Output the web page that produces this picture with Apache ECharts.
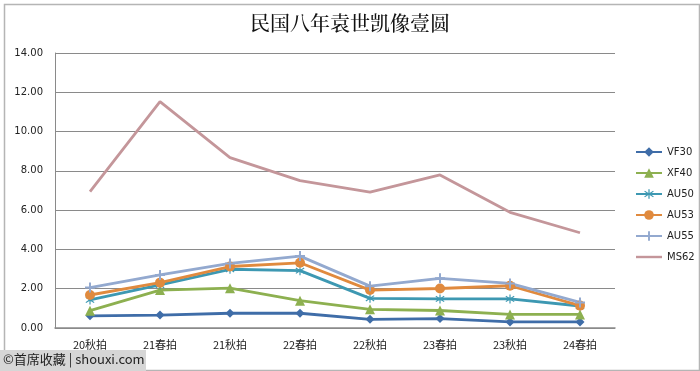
<!DOCTYPE html>
<html><head><meta charset="utf-8">
<script src="https://cdn.jsdelivr.net/npm/echarts@6/dist/echarts.min.js"></script>
<style>html,body{margin:0;padding:0;background:#fff}#c{width:700px;height:371px}</style>
</head><body><div id="c"></div>
<script>
const title = '民国八年袁世凯像壹圆';
const categories = ['20秋拍','21春拍','21秋拍','22春拍','22秋拍','23春拍','23秋拍','24春拍'];
const VF30 = [0.62,0.66,0.75,0.75,0.44,0.48,0.31,0.31];
const XF40 = [0.88,1.93,2.03,1.39,0.95,0.89,0.69,0.69];
const AU50 = [1.43,2.19,2.99,2.92,1.51,1.48,1.48,1.12];
const AU53 = [1.68,2.31,3.13,3.32,1.93,2.01,2.15,1.14];
const AU55 = [2.06,2.70,3.29,3.66,2.13,2.53,2.27,1.30];
const MS62 = [6.94,11.52,8.67,7.50,6.92,7.79,5.89,4.85];
const yTicks = [0,2,4,6,8,10,12,14];

const plus = 'path://M4,0H6V4H10V6H6V10H4V6H0V4H4Z';
const star = 'path://M4.4,0H5.6V3.9L8.9,1.5L9.6,2.5L6.2,4.9L9.6,7.5L8.9,8.5L5.6,6.1V10H4.4V6.1L1.1,8.5L0.4,7.5L3.8,4.9L0.4,2.5L1.1,1.5L4.4,3.9Z';
function s(name, data, color, symbol, size){
  return {name, type:'line', data, symbol, symbolSize:size, showSymbol: symbol!=='none',
    lineStyle:{color, width:2.8}, itemStyle:{color}, z: 2};
}
const chart = echarts.init(document.getElementById('c'));
chart.setOption({
  animation:false,
  backgroundColor:'#fff',
  title:{text:title,left:'center',top:8,textStyle:{fontFamily:'Noto Serif CJK SC, Noto Sans CJK SC',fontSize:20,fontWeight:500,color:'#111'}},
  grid:{left:55,right:85,top:53,bottom:43},
  legend:{orient:'vertical',left:630,top:142,itemGap:11,itemWidth:26,itemHeight:12,
    textStyle:{fontFamily:'DejaVu Sans',fontSize:10,color:'#222'},
    data:['VF30','XF40','AU50','AU53','AU55',{name:'MS62',icon:'path://M0,5H26V7.4H0Z'}]},
  xAxis:{type:'category',data:categories,boundaryGap:true,
    axisLine:{lineStyle:{color:'#8a8a8a',width:1.5}},axisTick:{show:false},
    axisLabel:{fontFamily:'Noto Sans CJK SC',fontSize:11,color:'#222',margin:11}},
  yAxis:{type:'value',min:yTicks[0],max:yTicks[yTicks.length-1],interval:2,
    axisLine:{show:true,lineStyle:{color:'#8a8a8a'}},axisTick:{show:false},
    splitLine:{lineStyle:{color:'#8a8a8a',width:1}},
    axisLabel:{fontFamily:'DejaVu Sans',fontSize:10,color:'#222',margin:12,formatter:v=>v.toFixed(2)}},
  series:[
    s('VF30',VF30,'#3F6DA8','diamond',9),
    s('XF40',XF40,'#8DB050','triangle',10),
    s('AU50',AU50,'#3D98B2',star,9),
    s('AU53',AU53,'#E08A3E','circle',10),
    s('AU55',AU55,'#93A9CF',plus,10),
    s('MS62',MS62,'#C4969A','none',4)
  ],
  graphic:[
    {type:'rect',left:2,top:2,shape:{width:695,height:366},style:{fill:'none',stroke:'#b5b5b5',lineWidth:1.5},z:-1},
    {type:'rect',left:0,top:350,shape:{width:146,height:21},style:{fill:'#d6d6d6'},z:10},
    {type:'text',left:3,top:353,style:{text:'©首席收藏 | shouxi.com',fontFamily:'Noto Sans CJK SC',fontSize:13,fill:'#222'},z:11}
  ]
});
</script></body></html>
